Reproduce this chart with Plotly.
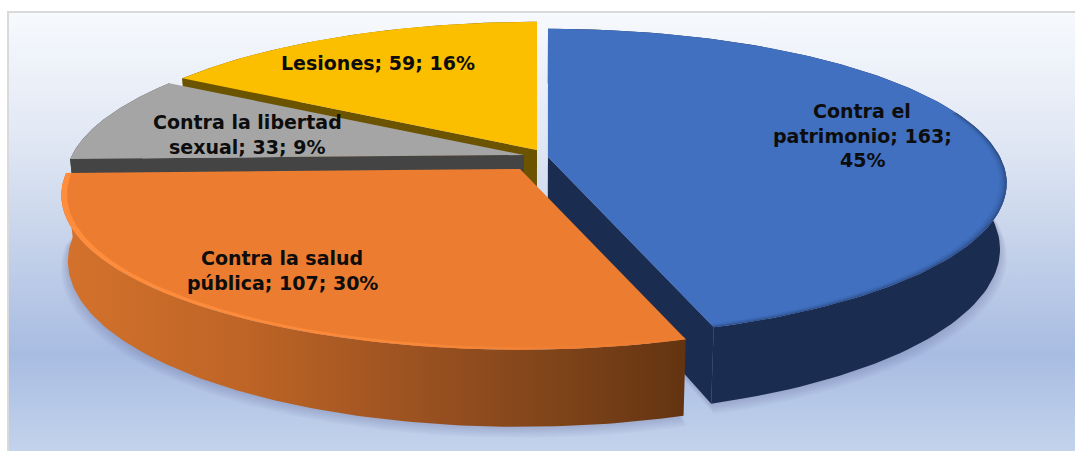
import numpy as np
import plotly.graph_objects as go

# Offence categories and their case counts
categories = ["Contra el patrimonio", "Contra la salud pública", "Contra la libertad sexual", "Lesiones"]
values = [163, 107, 33, 59]

# Wrapped label lines, one list per slice; the counts and shares are appended below
label_wraps = [["Contra el", "patrimonio;", "{p}%"], ["Contra la salud", "pública;"], ["Contra la libertad", "sexual;"], ["Lesiones;"]]

top_colors = ["#4170c0", "#ec7c30", "#a5a5a5", "#fcbf00"]
wall_colors = ["#1a2c50", "#6e4512", "#444444", "#6b5300"]

# Perspective disc: half-axes, foreshortening, wall height and inward lean of the walls
RX, RY, K, WALL, LEAN = 452, 150, 0.17, 64, 0.014
# Horizontal centre that the walls lean towards
LEAN_X = 530
# Screen position of each slice's apex once exploded
APEX = [(548, 157), (520, 169), (524, 155), (537, 150)]
# Where each wedge's label block is centred, and the line pitch
LABEL_AT = [(862, 111), (282, 258), (247, 122), (378, 63)]
LINE_PITCH = 24.5

WIDTH, HEIGHT = 1075, 451
total = sum(values)
edges = np.concatenate([[0], np.cumsum(values)]) / total * 2 * np.pi


def project(i, theta, radius=1.0, z=0.0):
    """Map a polar point on slice i to plot coordinates."""
    x, y = radius * np.sin(theta), radius * np.cos(theta)
    w = 1 + K * y
    sx = APEX[i][0] + RX * x / w
    sx = LEAN_X + (sx - LEAN_X) * (1 - LEAN * z / WALL)
    return sx, APEX[i][1] - RY * y / w + z / w


def arc(i, radius=1.0, z=0.0, n=120, lo=None, hi=None):
    lo = edges[i] if lo is None else lo
    hi = edges[i + 1] if hi is None else hi
    return project(i, np.linspace(lo, hi, n), radius, z)


def poly(xs, ys, color=None, gradient=None):
    trace = dict(x=list(xs) + [xs[0]], y=list(ys) + [ys[0]], mode="lines", line=dict(width=0),
                 fill="toself", hoverinfo="skip", showlegend=False)
    if gradient:
        trace["fillgradient"] = gradient
    else:
        trace["fillcolor"] = color
    return go.Scatter(**trace)


def sector(i, z=0.0, radius=1.0, shift=(0, 0)):
    ax, ay = project(i, 0.0, 0.0, z)
    xs, ys = arc(i, radius, z)
    return np.r_[ax, xs] + shift[0], np.r_[ay, ys] + shift[1]


def band(i, z0, z1, r0=1.0, r1=1.0, lo=None, hi=None):
    x0, y0 = arc(i, r0, z0, lo=lo, hi=hi)
    x1, y1 = arc(i, r1, z1, lo=lo, hi=hi)
    return np.r_[x0, x1[::-1]], np.r_[y0, y1[::-1]]


def radial_wall(i, theta):
    xa, ya = project(i, theta, 0.0, 0.0)
    xb, yb = project(i, theta, 1.0, 0.0)
    xc, yc = project(i, theta, 1.0, WALL)
    xd, yd = project(i, theta, 0.0, WALL)
    return [xa, xb, xc, xd], [ya, yb, yc, yd]


# The cut face that can be seen on each slice: blue shows its clockwise edge, grey and yellow their other one
visible_cut = {0: edges[1], 2: edges[2], 3: edges[3]}

fig = go.Figure()

# Page panel with its vertical wash and thin grey frame
fig.add_trace(poly([8, WIDTH, WIDTH, 8], [12, 12, HEIGHT, HEIGHT], gradient=dict(
    type="vertical", start=12, stop=HEIGHT,
    colorscale=[[0, "#f7f9fd"], [0.3, "#e0e7f4"], [0.52, "#c6d3ea"], [0.78, "#a8bce2"], [1, "#c3d3ec"]])))
fig.add_trace(go.Scatter(x=[WIDTH, 8, 8], y=[12, 12, HEIGHT], mode="lines", line=dict(color="#d9d9d9", width=2),
                         hoverinfo="skip", showlegend=False))

# Soft drop shadow: stacked translucent copies of each slice's base
for step in range(7):
    alpha = 0.04
    grow = 1.0 + 0.0025 * step
    for i in range(4):
        xs, ys = sector(i, WALL, grow, shift=(0, 1.2 * step))
        fig.add_trace(poly(xs, ys, f"rgba(70,85,115,{alpha})"))

# Painter's order: back slices first, orange last
for i in [3, 2, 0, 1]:
    if i in visible_cut:
        xs, ys = radial_wall(i, visible_cut[i])
        fig.add_trace(poly(xs, ys, wall_colors[i]))
    xs, ys = band(i, 0, WALL)
    if i == 1:
        grad = dict(type="horizontal", start=60, stop=690, colorscale=[
            [0, "#d4722c"], [0.3, "#bd6426"], [0.6, "#974f20"], [0.8, "#7d4319"], [1, "#623311"]])
        fig.add_trace(poly(xs, ys, gradient=grad))
    else:
        fig.add_trace(poly(xs, ys, wall_colors[i]))
    xs, ys = sector(i)
    fig.add_trace(poly(xs, ys, top_colors[i]))

    if i == 1:
        # Bright bevel running along the orange rim
        xs, ys = band(i, 0, 0, 0.988, 1.0)
        fig.add_trace(poly(xs, ys, gradient=dict(type="horizontal", start=60, stop=690, colorscale=[
            [0, "#ff8d3c"], [0.55, "#f98838"], [0.8, "#ee7f33"], [1, "#ec7c30"]])))
    if i == 0:
        # Darkening bevel on the blue rim
        for r, a in [(0.985, 0.08), (0.991, 0.16), (0.996, 0.26)]:
            xs, ys = band(i, 0, 0, r, 1.0, lo=np.radians(72), hi=edges[1])
            fig.add_trace(poly(xs, ys, f"rgba(26,44,80,{a})"))

# Slice labels, one annotation per wrapped line
for i, name in enumerate(categories):
    pct = round(values[i] / total * 100)
    lines = [ln.format(p=pct) for ln in label_wraps[i]]
    if i == 0:
        lines[1] += f" {values[i]};"
    else:
        lines[-1] += f" {values[i]}; {pct}%"
    x0, y0 = LABEL_AT[i]
    for j, ln in enumerate(lines):
        fig.add_annotation(x=x0, y=y0 + j * LINE_PITCH, text=f"<b>{ln}</b>", showarrow=False,
                           xanchor="center", yanchor="middle",
                           font=dict(family="DejaVu Sans", size=19, color="#0d0d0d"))

fig.update_layout(
    width=WIDTH, height=HEIGHT, margin=dict(l=0, r=0, t=0, b=0), autosize=False,
    paper_bgcolor="white", plot_bgcolor="white", showlegend=False,
    xaxis=dict(range=[0, WIDTH], visible=False, fixedrange=True),
    yaxis=dict(range=[HEIGHT, 0], visible=False, fixedrange=True),
)
fig.write_html("out.html", config=dict(displayModeBar=False))
